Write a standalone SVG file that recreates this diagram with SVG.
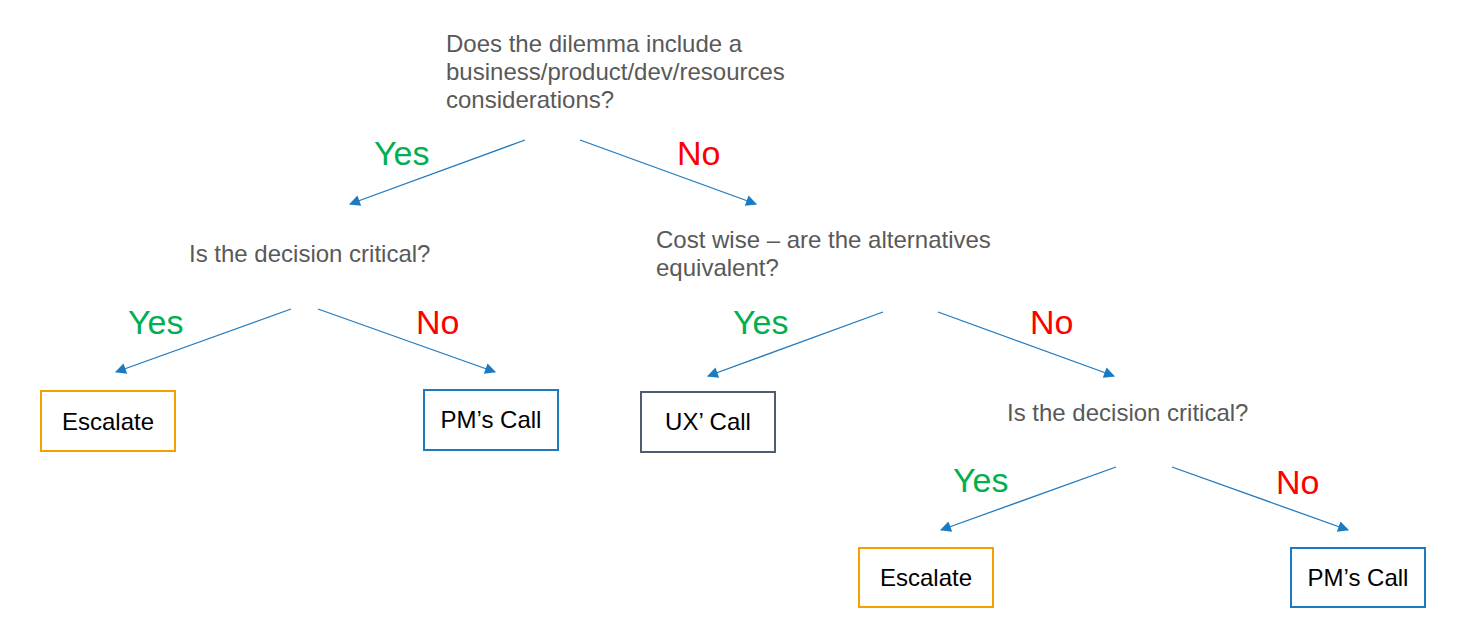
<svg xmlns="http://www.w3.org/2000/svg" width="1459" height="630" viewBox="0 0 1459 630">
<style>
.q{font-family:"Liberation Sans",Arial,sans-serif;font-size:24px;fill:#595959}
.yes{font-family:"Liberation Sans",Arial,sans-serif;font-size:34px;fill:#00B050}
.no{font-family:"Liberation Sans",Arial,sans-serif;font-size:34px;fill:#FF0000}
.bt{font-family:"Liberation Sans",Arial,sans-serif;font-size:24px;fill:#000;text-anchor:middle}
.box{fill:#fff;stroke-width:2}
.or{stroke:#F5A000}
.bl{stroke:#1E7AC0}
.gr{stroke:#4F5D70}
.c{stroke:#1E7AC0;stroke-width:1.3;fill:none;marker-end:url(#ah)}
</style>
<defs>
<marker id="ah" viewBox="0 0 10 10" refX="9" refY="5" markerWidth="12" markerHeight="11" markerUnits="userSpaceOnUse" orient="auto">
<path d="M0,0 L10,5 L0,10 z" fill="#1E7AC0"/>
</marker>
</defs>
<rect width="1459" height="630" fill="#fff"/>
<g id="connectors">
<line class="c" x1="525" y1="140" x2="350" y2="204"/>
<line class="c" x1="580" y1="140" x2="756" y2="204"/>
<line class="c" x1="291" y1="309" x2="116" y2="372"/>
<line class="c" x1="318" y1="309" x2="495" y2="372"/>
<line class="c" x1="883" y1="312" x2="708" y2="376"/>
<line class="c" x1="938" y1="312" x2="1114" y2="376"/>
<line class="c" x1="1116" y1="467" x2="941" y2="530"/>
<line class="c" x1="1172" y1="467" x2="1348" y2="530"/>
<text class="yes" x="374" y="165">Yes</text>
<text class="no" x="677" y="165">No</text>
<text class="yes" x="128" y="334">Yes</text>
<text class="no" x="416" y="334">No</text>
<text class="yes" x="733" y="334">Yes</text>
<text class="no" x="1030" y="334">No</text>
<text class="yes" x="953" y="492">Yes</text>
<text class="no" x="1276" y="494">No</text>
</g>
<g id="q1">
<text class="q" x="446" y="52">Does the dilemma include a</text>
<text class="q" x="446" y="80">business/product/dev/resources</text>
<text class="q" x="446" y="108">considerations?</text>
</g>
<g id="q2">
<text class="q" x="189" y="262">Is the decision critical?</text>
</g>
<g id="q3">
<text class="q" x="656" y="248">Cost wise – are the alternatives</text>
<text class="q" x="656" y="276">equivalent?</text>
</g>
<g id="q4">
<text class="q" x="1007" y="421">Is the decision critical?</text>
</g>
<g id="escalate1">
<rect class="box or" x="41" y="391" width="134" height="60"/>
<text class="bt" x="108" y="430">Escalate</text>
</g>
<g id="pm1">
<rect class="box bl" x="424" y="390" width="134" height="60"/>
<text class="bt" x="491" y="428">PM’s Call</text>
</g>
<g id="ux">
<rect class="box gr" x="641" y="392" width="134" height="60"/>
<text class="bt" x="708" y="430">UX’ Call</text>
</g>
<g id="escalate2">
<rect class="box or" x="859" y="548" width="134" height="59"/>
<text class="bt" x="926" y="586">Escalate</text>
</g>
<g id="pm2">
<rect class="box bl" x="1291" y="548" width="134" height="59"/>
<text class="bt" x="1358" y="586">PM’s Call</text>
</g>
</svg>
